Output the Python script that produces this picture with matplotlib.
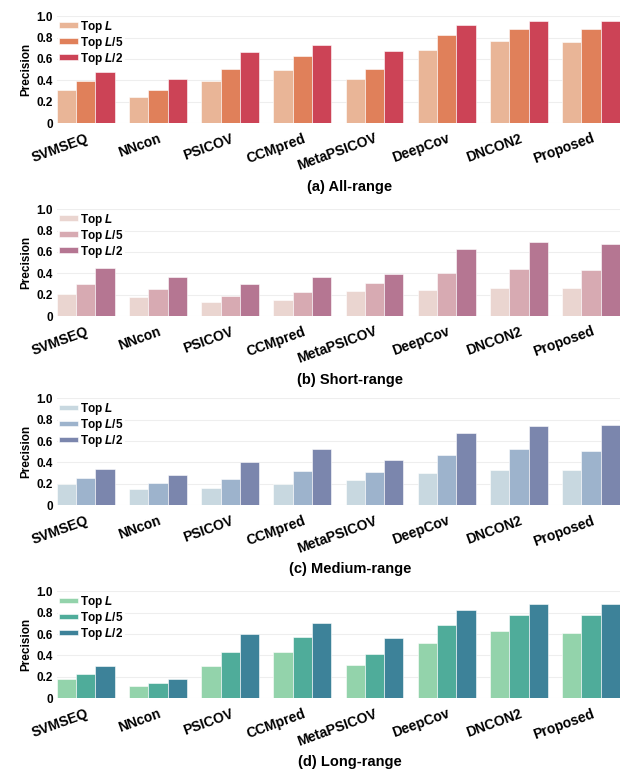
import matplotlib.pyplot as plt
import numpy as np

plt.rcParams['font.family'] = 'Liberation Sans'
plt.rcParams['font.weight'] = 'bold'
plt.rcParams['axes.labelweight'] = 'bold'
plt.rcParams['mathtext.fontset'] = 'custom'
plt.rcParams['mathtext.it'] = 'Liberation Sans:italic:bold'
plt.rcParams['mathtext.rm'] = 'Liberation Sans:bold'

methods = ['SVMSEQ', 'NNcon', 'PSICOV', 'CCMpred', 'MetaPSICOV', 'DeepCov', 'DNCON2', 'Proposed']
series = ['Top $L$', 'Top $L$/5', 'Top $L$/2']

# precision per range: rows = Top L, Top L/5, Top L/2
all_range = [[0.31, 0.24, 0.39, 0.50, 0.41, 0.68, 0.77, 0.76],
             [0.39, 0.31, 0.51, 0.63, 0.51, 0.825, 0.88, 0.88],
             [0.48, 0.41, 0.66, 0.73, 0.67, 0.92, 0.95, 0.95]]
short_range = [[0.205, 0.175, 0.13, 0.15, 0.235, 0.245, 0.26, 0.26],
               [0.30, 0.25, 0.19, 0.225, 0.31, 0.40, 0.44, 0.43],
               [0.445, 0.365, 0.30, 0.365, 0.39, 0.63, 0.69, 0.67]]
medium_range = [[0.195, 0.15, 0.16, 0.20, 0.24, 0.305, 0.33, 0.33],
                [0.255, 0.21, 0.245, 0.32, 0.315, 0.47, 0.53, 0.51],
                [0.34, 0.28, 0.40, 0.53, 0.42, 0.675, 0.74, 0.75]]
long_range = [[0.18, 0.11, 0.30, 0.43, 0.31, 0.52, 0.625, 0.615],
              [0.23, 0.14, 0.43, 0.575, 0.41, 0.685, 0.775, 0.775],
              [0.30, 0.18, 0.60, 0.70, 0.565, 0.83, 0.88, 0.88]]

titles = ['(a) All-range', '(b) Short-range', '(c) Medium-range', '(d) Long-range']
palettes = [['#e9b597', '#e0805a', '#cc4356'],
            ['#ead5d0', '#d7aab2', '#b57692'],
            ['#c8d8e0', '#9db3cc', '#7b86ad'],
            ['#93d3ab', '#4fac9a', '#3d8299']]
panels = [all_range, short_range, medium_range, long_range]

fig = plt.figure(figsize=(6.25, 7.69), dpi=100)
bottoms = [0.840, 0.589, 0.343, 0.092]
x = np.arange(len(methods))
width = 0.8 / 3

for k in range(4):
    ax = fig.add_axes([0.091, bottoms[k], 0.901, 0.139])
    for j in range(3):
        ax.bar(x + (j - 1) * width, panels[k][j], width, color=palettes[k][j],
               edgecolor='white', linewidth=0.4, label=series[j], zorder=2)
    ax.set_xlim(-0.4, len(methods) - 0.6)
    ax.set_ylim(0, 1.0)
    ax.set_yticks([0, 0.2, 0.4, 0.6, 0.8, 1.0])
    ax.set_yticklabels(['0', '0.2', '0.4', '0.6', '0.8', '1.0'], fontsize=8.5)
    ax.set_xticks(x)
    ax.set_xticklabels(methods, rotation=20, ha='right', rotation_mode='anchor', fontsize=10)
    ax.tick_params(length=0, pad=3)
    ax.tick_params(axis='x', pad=6)
    ax.grid(axis='y', color='#eeeeee', linewidth=0.8, zorder=0)
    for s in ax.spines.values():
        s.set_visible(False)
    ax.set_ylabel('Precision', fontsize=8.5, labelpad=3)
    leg = ax.legend(loc='upper left', fontsize=8.5, frameon=True, handlelength=1.6,
                    handleheight=0.4, labelspacing=0.0, handletextpad=0.2,
                    borderpad=0.1, borderaxespad=0.1, fancybox=False)
    leg.get_frame().set_edgecolor('none')
    leg.get_frame().set_facecolor('white')
    leg.get_frame().set_alpha(0.9)
    ax.text(0.52, -0.6, titles[k], transform=ax.transAxes, ha='center', va='center',
            fontsize=10.5, fontweight='bold')

plt.savefig('out.png', dpi=100)
